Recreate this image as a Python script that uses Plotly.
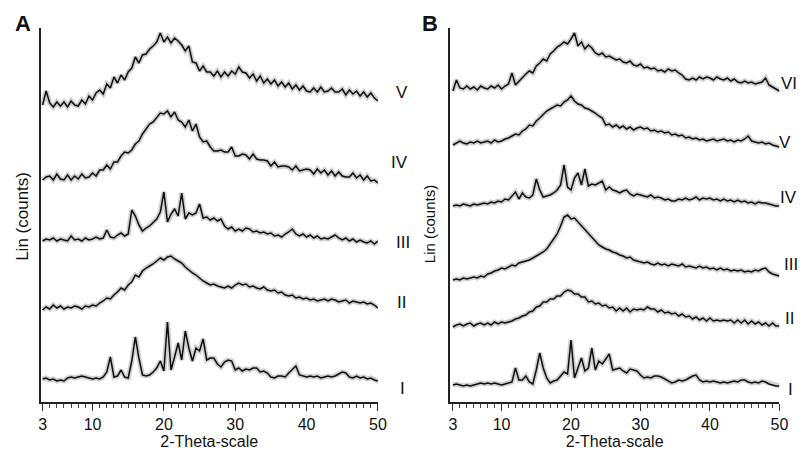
import numpy as np
import plotly.graph_objects as go

# 2-theta sampling grid (degrees)
THETA = np.arange(3.0, 50.01, 0.5)

TICK_VALS = [3, 10, 20, 30, 40, 50]
TICK_TEXT = ["3", "10", "20", "30", "40", "50"]

# ---------------- Panel A (stacked intensities, arbitrary counts) ----------------
A_V = [297, 311, 299, 295, 300, 296, 300, 295, 301, 297,
       296, 302, 298, 306, 302, 309, 312, 308, 318, 314,
       325, 319, 327, 322, 330, 334, 345, 339, 347, 348,
       353, 356, 360, 369, 360, 365, 359, 364, 361, 357,
       351, 356, 340, 339, 331, 336, 330, 330, 326, 331,
       325, 330, 326, 331, 328, 335, 330, 329, 324, 328,
       321, 326, 319, 323, 318, 322, 316, 320, 315, 319,
       313, 317, 312, 316, 311, 310, 314, 310, 315, 310,
       311, 314, 310, 310, 313, 307, 312, 308, 311, 306,
       310, 305, 309, 304, 301]
A_IV = [222, 225, 226, 222, 228, 223, 222, 227, 222, 226,
        223, 228, 224, 225, 229, 226, 232, 232, 237, 233,
        240, 240, 246, 250, 249, 252, 258, 261, 268, 273,
        278, 280, 285, 289, 288, 291, 285, 290, 282, 280,
        275, 282, 271, 278, 265, 260, 261, 255, 251, 251,
        252, 250, 250, 255, 246, 246, 248, 247, 243, 248,
        243, 242, 242, 241, 236, 240, 235, 236, 236, 235,
        232, 236, 231, 232, 233, 232, 228, 233, 229, 232,
        227, 231, 226, 230, 226, 225, 225, 229, 224, 227,
        222, 226, 221, 222, 219]
A_III = [161, 163, 162, 164, 161, 163, 162, 161, 166, 162,
         163, 161, 164, 162, 163, 165, 163, 164, 172, 165,
         164, 167, 169, 166, 168, 192, 186, 177, 171, 174,
         176, 180, 183, 190, 210, 180, 188, 193, 186, 209,
         183, 189, 187, 189, 198, 184, 185, 182, 184, 181,
         183, 176, 173, 175, 171, 173, 171, 174, 173, 170,
         171, 169, 170, 168, 169, 166, 167, 165, 168, 170,
         173, 168, 166, 168, 165, 167, 164, 166, 163, 164,
         163, 165, 167, 164, 162, 164, 161, 163, 160, 162,
         160, 159, 161, 158, 161]
A_II = [92, 95, 93, 97, 94, 96, 93, 95, 94, 96,
        95, 93, 96, 95, 97, 96, 99, 101, 104, 103,
        107, 110, 114, 112, 117, 120, 127, 125, 131, 134,
        136, 138, 141, 144, 142, 145, 146, 143, 141, 139,
        135, 132, 129, 127, 124, 121, 119, 117, 118, 116,
        115, 114, 116, 114, 117, 119, 117, 118, 115, 116,
        114, 113, 115, 112, 111, 112, 109, 110, 107, 106,
        107, 104, 105, 103, 104, 102, 103, 101, 102, 103,
        101, 103, 102, 100, 101, 102, 99, 101, 100, 99,
        100, 98, 99, 97, 94]
A_I = [23, 24, 22, 23, 21, 22, 21, 24, 25, 24,
       25, 26, 25, 24, 23, 24, 23, 25, 30, 45,
       25, 26, 32, 25, 24, 41, 65, 44, 27, 26,
       27, 30, 34, 41, 31, 80, 32, 45, 59, 42,
       71, 54, 41, 54, 51, 63, 42, 44, 44, 38,
       35, 40, 42, 41, 32, 34, 31, 33, 32, 34,
       34, 30, 31, 29, 25, 24, 26, 26, 25, 29,
       33, 36, 27, 26, 25, 26, 25, 26, 24, 25,
       26, 25, 26, 28, 30, 29, 25, 24, 26, 24,
       25, 23, 24, 22, 21]

# ---------------- Panel B ----------------
B_VI = [311, 322, 314, 313, 316, 313, 315, 312, 316, 314,
        313, 316, 314, 317, 313, 316, 318, 329, 317, 321,
        324, 328, 331, 329, 336, 339, 343, 341, 348, 351,
        355, 357, 360, 358, 363, 369, 356, 360, 353, 357,
        354, 349, 347, 349, 345, 346, 344, 342, 343, 340,
        339, 341, 337, 336, 338, 334, 335, 333, 334, 331,
        332, 330, 333, 331, 332, 329, 327, 323, 322, 324,
        322, 325, 323, 325, 324, 322, 325, 323, 322, 324,
        321, 323, 320, 319, 321, 319, 320, 318, 319, 320,
        324, 317, 315, 313, 311]
B_V = [257, 259, 261, 259, 258, 260, 259, 261, 259, 260,
       261, 259, 262, 260, 261, 263, 264, 266, 268, 267,
       271, 273, 277, 276, 281, 284, 288, 291, 293, 295,
       297, 296, 300, 302, 306, 301, 298, 297, 294, 293,
       291, 289, 286, 284, 277, 278, 275, 277, 274, 276,
       273, 275, 272, 274, 275, 273, 274, 271, 272, 270,
       271, 269, 270, 267, 268, 266, 267, 264, 265, 263,
       264, 262, 263, 261, 262, 263, 261, 262, 263, 261,
       262, 260, 262, 261, 263, 266, 261, 260, 259, 260,
       258, 259, 257, 256, 255]
B_IV = [196, 197, 196, 198, 197, 196, 198, 197, 198, 199,
        198, 200, 199, 201, 200, 203, 202, 206, 210, 203,
        209, 205, 204, 207, 223, 212, 205, 206, 207, 209,
        212, 217, 237, 215, 212, 224, 229, 217, 233, 216,
        218, 217, 219, 221, 212, 215, 212, 211, 209, 211,
        212, 208, 206, 208, 207, 206, 205, 207, 204, 205,
        204, 202, 203, 201, 201, 203, 202, 204, 202, 203,
        205, 202, 204, 203, 204, 202, 203, 201, 203, 201,
        202, 200, 202, 200, 201, 199, 200, 198, 200, 199,
        199, 198, 197, 196, 196]
B_III = [122, 123, 122, 124, 123, 124, 125, 124, 126, 125,
         128, 129, 131, 132, 134, 133, 135, 137, 136, 139,
         140, 141, 142, 144, 146, 148, 150, 153, 158, 162,
         168, 176, 185, 187, 183, 184, 180, 177, 172, 168,
         164, 160, 157, 155, 153, 152, 150, 149, 147, 146,
         144, 145, 142, 141, 140, 139, 140, 138, 137, 139,
         137, 138, 136, 138, 137, 136, 138, 135, 136, 135,
         134, 136, 134, 135, 133, 134, 132, 134, 132, 133,
         131, 132, 131, 132, 130, 131, 130, 132, 131, 133,
         134, 130, 128, 127, 126]
B_II = [75, 77, 78, 76, 78, 79, 76, 78, 79, 77,
        79, 77, 80, 78, 80, 79, 80, 81, 83, 84,
        86, 87, 90, 91, 95, 96, 100, 100, 103, 103,
        106, 106, 110, 112, 111, 108, 108, 105, 105, 100,
        101, 98, 99, 96, 97, 94, 95, 91, 94, 91,
        94, 90, 93, 92, 93, 92, 95, 93, 93, 90,
        92, 89, 90, 88, 89, 86, 88, 85, 86, 83,
        85, 82, 84, 81, 84, 81, 82, 81, 82, 81,
        82, 79, 82, 79, 82, 78, 81, 78, 80, 77,
        79, 76, 79, 76, 76]
B_I = [17, 18, 17, 16, 17, 16, 17, 18, 19, 18,
       19, 18, 19, 18, 17, 18, 19, 20, 34, 22,
       22, 26, 20, 18, 32, 49, 34, 24, 19, 21,
       22, 26, 30, 28, 62, 24, 35, 44, 31, 34,
       54, 32, 41, 38, 43, 48, 32, 33, 34, 31,
       29, 33, 32, 31, 27, 24, 25, 24, 26, 26,
       25, 23, 21, 19, 20, 22, 21, 22, 24, 26,
       27, 22, 20, 21, 20, 21, 20, 19, 20, 19,
       20, 21, 20, 22, 22, 20, 19, 20, 19, 21,
       20, 18, 17, 16, 16]

PANEL_A = [("I", A_I), ("II", A_II), ("III", A_III), ("IV", A_IV), ("V", A_V)]
PANEL_B = [("I", B_I), ("II", B_II), ("III", B_III), ("IV", B_IV), ("V", B_V), ("VI", B_VI)]

W, H = 810, 454
FONT = "Liberation Sans, Arial, sans-serif"

fig = go.Figure()

def add_panel(series, xa, ya):
    for name, vals in series:
        fig.add_trace(go.Scatter(x=THETA, y=vals, mode="lines", xaxis=xa, yaxis=ya,
                                 line=dict(color="rgba(150,150,150,0.45)", width=5),
                                 hoverinfo="skip", showlegend=False))
    for name, vals in series:
        fig.add_trace(go.Scatter(x=THETA, y=vals, mode="lines", xaxis=xa, yaxis=ya,
                                 name=name, line=dict(color="#0d0d0d", width=1.5),
                                 showlegend=False))

add_panel(PANEL_A, "x", "y")
add_panel(PANEL_B, "x2", "y2")

ydom = [1 - 394 / H, 1 - 20 / H]
xcommon = dict(showline=True, linecolor="#222", linewidth=1.8, ticks="outside",
               ticklen=7, tickwidth=1.4, tickcolor="#333", tickmode="array",
               tickvals=TICK_VALS, ticktext=TICK_TEXT, showgrid=False, zeroline=False,
               ticklabelstandoff=0,
               tickfont=dict(family=FONT, size=16, color="#111"),
               minor=dict(ticks="outside", ticklen=4, tickwidth=1.1, tickcolor="#444",
                          tickmode="linear", tick0=3, dtick=1, showgrid=False),
               title=dict(text="2-Theta-scale", font=dict(family=FONT, size=16, color="#111"),
                          standoff=2))
ycommon = dict(showline=True, linecolor="#222", linewidth=1.8, ticks="", showticklabels=False,
               showgrid=False, zeroline=False, range=[0, 374], domain=ydom)

fig.update_layout(
    width=W, height=H, margin=dict(l=0, r=0, t=0, b=0),
    paper_bgcolor="white", plot_bgcolor="white",
    xaxis=dict(xcommon, domain=[31 / W, 373 / W], range=[2.72, 50.0], anchor="y"),
    yaxis=dict(ycommon, anchor="x"),
    xaxis2=dict(xcommon, domain=[446 / W, 780 / W], range=[2.57, 50.0], anchor="y2"),
    yaxis2=dict(ycommon, anchor="x2"),
    showlegend=False,
)

ann = []
def txt(x, y, s, size=17, bold=False, angle=0):
    ann.append(dict(x=x / W, y=1 - y / H, xref="paper", yref="paper", text=(f"<b>{s}</b>" if bold else s),
                    showarrow=False, textangle=angle, xanchor="center", yanchor="middle",
                    font=dict(family=FONT, size=size, color="#111")))

txt(13, 15, "A", size=22, bold=True)
txt(426, 15, "B", size=22, bold=True)
txt(12, 208, "Lin (counts)", size=17, angle=-90)
txt(426, 216, "Lin (counts)", size=15, angle=-90)

labels_A = [("V", 397, 84), ("IV", 395, 154), ("III", 398, 234), ("II", 397, 294), ("I", 398, 380)]
labels_B = [("VI", 790, 76), ("V", 786, 134), ("IV", 789, 190), ("III", 792, 256), ("II", 790, 310), ("I", 791, 381)]
for s, x, y in labels_A + labels_B:
    txt(x, y, s)

fig.update_layout(annotations=ann)
fig.write_html("out.html")
